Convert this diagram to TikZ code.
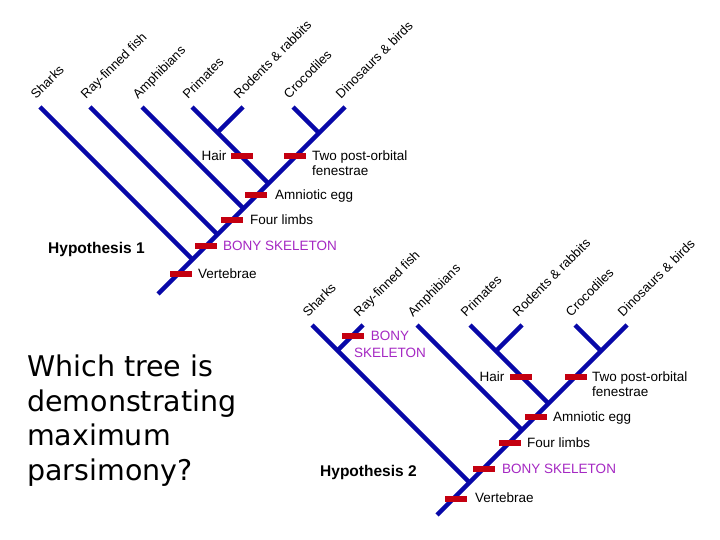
\documentclass[tikz,border=0pt]{standalone}
\usepackage{fontspec}
\setmainfont{Liberation Sans}
\newfontfamily\qfont{DejaVu Sans}
\usetikzlibrary{calc}
\definecolor{treeblue}{RGB}{8,8,168}
\definecolor{barred}{RGB}{196,0,16}
\definecolor{bonypurple}{RGB}{165,40,195}
\begin{document}
\begin{tikzpicture}[x=1pt,y=-1pt,
  branch/.style={draw=treeblue,line width=4.5pt},
  bar/.style={fill=barred,minimum width=22pt,minimum height=5.5pt,inner sep=0pt},
  lbl/.style={font=\fontsize{13.5}{15}\selectfont,inner sep=0pt,anchor=base west},
  leaf/.style={font=\fontsize{13}{15}\selectfont,inner sep=0pt,anchor=base west,rotate=45},
  hyp/.style={font=\fontsize{15.5}{18}\selectfont\bfseries,inner sep=0pt,anchor=base west}]
\useasboundingbox[fill=white] (0,0) rectangle (720,540);

% ---------------- Tree 1 ----------------
\coordinate (root1) at (158,294);
\coordinate (s1) at (40,107);
\coordinate (r1) at (90,107);
\coordinate (a1) at (142,107);
\coordinate (p1) at (192,107);
\coordinate (ro1) at (243,107);
\coordinate (c1) at (293,107);
\coordinate (d1) at (345,107);
\coordinate (js1) at (192.5,259.5);
\coordinate (jr1) at (217.5,234.5);
\coordinate (ja1) at (243.5,208.5);
\coordinate (jp1) at (268.5,183.5);
\coordinate (jpr1) at (217.5,132.5);
\coordinate (jc1) at (319,133);

\draw[branch] (root1) -- (d1);
\draw[branch] (s1) -- (js1);
\draw[branch] (r1) -- (jr1);
\draw[branch] (a1) -- (ja1);
\draw[branch] (p1) -- (jp1);
\draw[branch] (ro1) -- (jpr1);
\draw[branch] (c1) -- (jc1);

\node[leaf] (ls1) at ($(s1)+(-4,-7.5)$) {Sharks};
\node[leaf] (lr1) at ($(r1)+(-4,-7.5)$) {Ray-finned fish};
\node[leaf] (la1) at ($(a1)+(-4,-7.5)$) {Amphibians};
\node[leaf] (lp1) at ($(p1)+(-4,-7.5)$) {Primates};
\node[leaf] (lro1) at ($(ro1)+(-4,-7.5)$) {Rodents \& rabbits};
\node[leaf] (lc1) at ($(c1)+(-4,-7.5)$) {Crocodiles};
\node[leaf] (ld1) at ($(d1)+(-4,-7.5)$) {Dinosaurs \& birds};

\node[bar] (bh1) at (241.5,156) {};
\node[bar] (bt1) at (295,156) {};
\node[bar] (be1) at (256,195) {};
\node[bar] (bf1) at (231.5,220) {};
\node[bar] (bb1) at (206,246) {};
\node[bar] (bv1) at (180.5,274) {};

\node[lbl,anchor=base east] (th1) at (226.5,160.5) {Hair};
\node[lbl,align=left,anchor=north west] (tt1) at (312,150.2) {Two post-orbital\\fenestrae};
\node[lbl] (te1) at (275,199.5) {Amniotic egg};
\node[lbl] (tf1) at (250,224.5) {Four limbs};
\node[lbl,text=bonypurple] (tb1) at (223,250.5) {BONY SKELETON};
\node[lbl] (tv1) at (198,278.5) {Vertebrae};

\node[hyp] (hyp1) at (48,254) {Hypothesis 1};

% ---------------- Tree 2 ----------------
\coordinate (root2) at (437,515);
\coordinate (s2) at (312,325);
\coordinate (r2) at (363,325);
\coordinate (a2) at (417,325);
\coordinate (p2) at (470,325);
\coordinate (ro2) at (522,325);
\coordinate (c2) at (575,325);
\coordinate (d2) at (627,325);
\coordinate (jsr2) at (337.5,350.5);
\coordinate (js2) at (469.5,482.5);
\coordinate (ja2) at (522,430);
\coordinate (jpr2) at (496,351);
\coordinate (jp2) at (548.5,403.5);
\coordinate (jc2) at (601,351);

\draw[branch] (root2) -- (d2);
\draw[branch] (s2) -- (js2);
\draw[branch] (r2) -- (jsr2);
\draw[branch] (a2) -- (ja2);
\draw[branch] (p2) -- (jp2);
\draw[branch] (ro2) -- (jpr2);
\draw[branch] (c2) -- (jc2);

\node[leaf] (ls2) at ($(s2)+(-4,-7.5)$) {Sharks};
\node[leaf] (lr2) at ($(r2)+(-4,-7.5)$) {Ray-finned fish};
\node[leaf] (la2) at ($(a2)+(-4,-7.5)$) {Amphibians};
\node[leaf] (lp2) at ($(p2)+(-4,-7.5)$) {Primates};
\node[leaf] (lro2) at ($(ro2)+(-4,-7.5)$) {Rodents \& rabbits};
\node[leaf] (lc2) at ($(c2)+(-4,-7.5)$) {Crocodiles};
\node[leaf] (ld2) at ($(d2)+(-4,-7.5)$) {Dinosaurs \& birds};

\node[bar] (bu2) at (353,336) {};
\node[bar] (bh2) at (521,377) {};
\node[bar] (bt2) at (575.5,377) {};
\node[bar] (be2) at (535.5,417) {};
\node[bar] (bf2) at (510,443) {};
\node[bar] (bb2) at (483.5,469) {};
\node[bar] (bv2) at (456,499) {};

\node[lbl,align=center,anchor=north,text=bonypurple,font=\fontsize{13.5}{16.5}\selectfont] (tu2) at (390,331.3) {BONY\\SKELETON};
\node[lbl,anchor=base east] (th2) at (504.5,381) {Hair};
\node[lbl,align=left,anchor=north west] (tt2) at (592,371.2) {Two post-orbital\\fenestrae};
\node[lbl] (te2) at (553,421.5) {Amniotic egg};
\node[lbl] (tf2) at (527,447.5) {Four limbs};
\node[lbl,text=bonypurple] (tb2) at (502,473) {BONY SKELETON};
\node[lbl] (tv2) at (475,502.5) {Vertebrae};

\node[hyp] (hyp2) at (320,476.5) {Hypothesis 2};

% ---------------- Question ----------------
\node[inner sep=0pt,align=left,anchor=north west,font=\qfont\fontsize{28.5}{34.7}\selectfont] (question) at (27,354.5)
  {Which tree is\\demonstrating\\maximum\\parsimony?};
\end{tikzpicture}
\end{document}
